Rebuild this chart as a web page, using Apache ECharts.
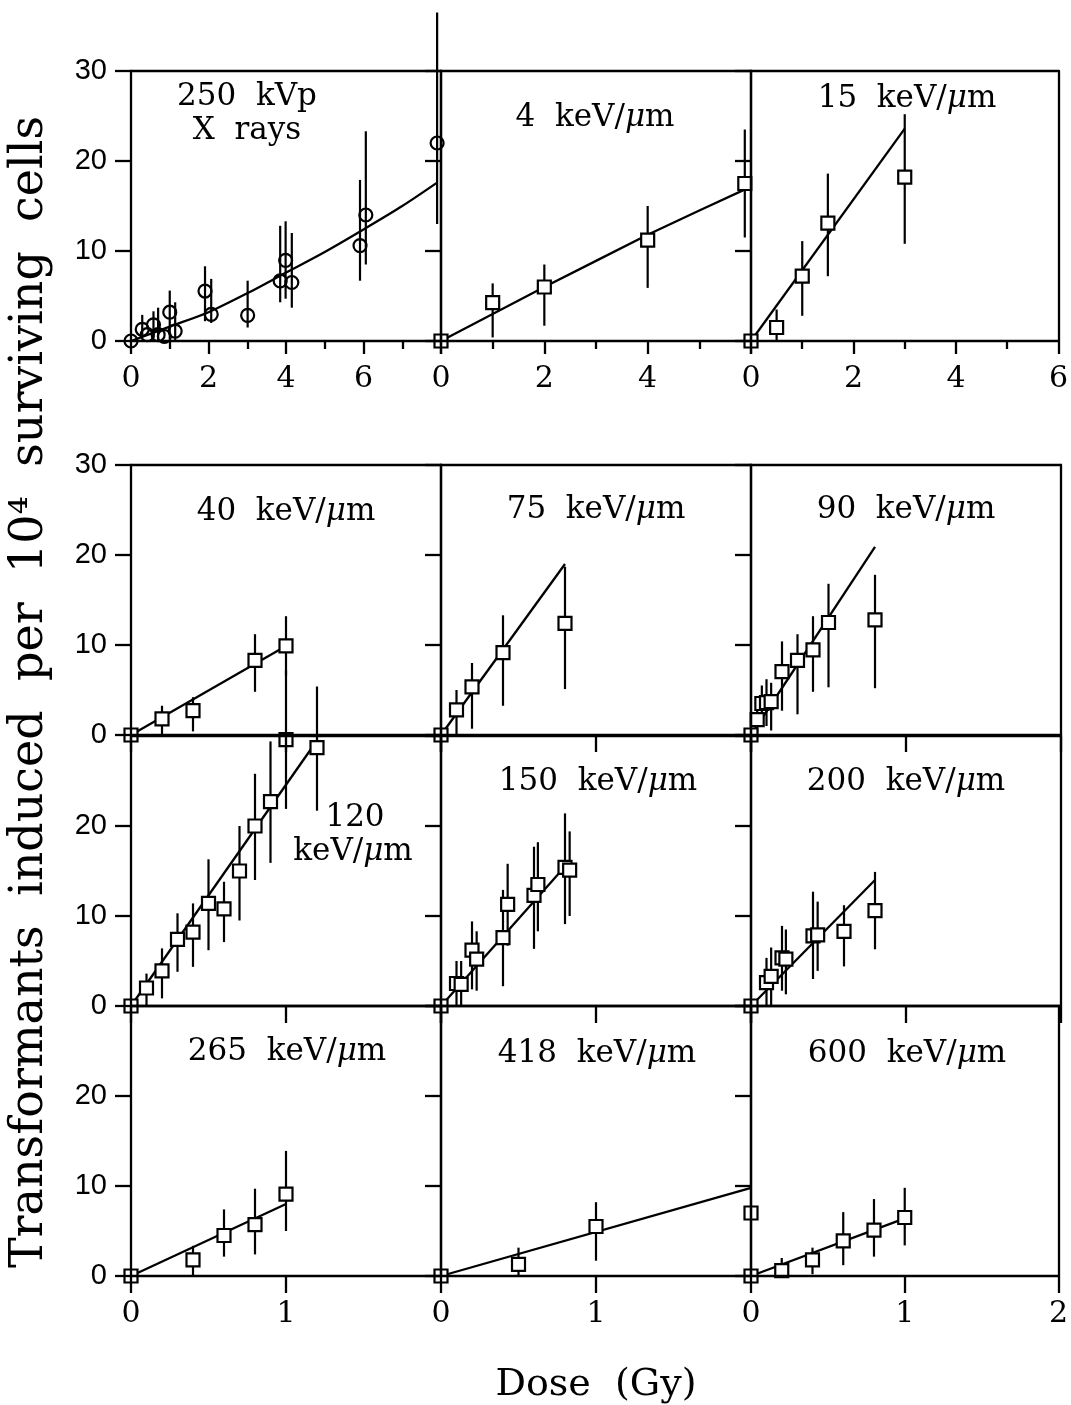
<!DOCTYPE html>
<html>
<head>
<meta charset="utf-8">
<script src="https://cdn.jsdelivr.net/npm/echarts@6/dist/echarts.min.js"></script>
<style>
  html, body { margin: 0; padding: 0; background: #fff; }
  #chart { width: 1071px; height: 1405px; }
</style>
</head>
<body>
<div id="chart"></div>
<script>
// points: [dose (Gy), transformants, error bar low, error bar high]
const xrayPoints = [
  [0, 0, 0, 0], [0.29, 1.3, 0.4, 2.9], [0.42, 0.7, 0.7, 0.7], [0.58, 1.8, 0.3, 3.3],
  [0.7, 0.7, 0.0, 3.7], [0.86, 0.5, 0.5, 0.5], [1.0, 3.2, 0.2, 5.6], [1.14, 1.1, 0.0, 4.3],
  [1.91, 5.55, 2.2, 8.3], [2.07, 2.96, 2.0, 6.9], [3.01, 2.85, 1.5, 6.7], [3.85, 6.67, 4.3, 12.8],
  [3.99, 8.96, 4.7, 13.3], [4.15, 6.5, 3.7, 12.0], [5.91, 10.6, 6.7, 17.9], [6.06, 14.0, 8.5, 23.3],
  [7.9, 22.0, 13.0, 36.5]
];
const xrayFit = [[0, 0], [1, 1.6], [2, 3.2], [3, 5.3], [4, 7.6], [5, 9.9], [6, 12.4], [7, 15.0], [7.9, 17.6]];

const let4Points = [[0, 0, 0, 0], [1.0, 4.26, 0.4, 6.4], [2.0, 6.0, 1.7, 8.5], [4.0, 11.2, 5.9, 15.0], [5.88, 17.5, 11.5, 23.5]];
const let4Fit = [[0, 0], [1, 3.0], [2, 6.0], [3, 8.9], [4, 11.8], [5, 14.5], [5.98, 17.1]];

const let15Points = [[0, 0, 0, 0], [0.5, 1.5, 0, 3.5], [1.0, 7.2, 2.8, 11.1], [1.5, 13.1, 7.2, 18.6], [3.0, 18.2, 10.8, 25.2]];
const let15Fit = [[0, 0], [3, 23.6]];

const let40Points = [[0, 0, 0, 0], [0.2, 1.8, 0, 3.25], [0.4, 2.7, 0.4, 4.2], [0.8, 8.3, 4.8, 11.2], [1.0, 9.9, 6.6, 13.2]];
const let40Fit = [[0, 0], [1.0, 9.9]];

const let75Points = [[0, 0, 0, 0], [0.1, 2.8, 0, 5.0], [0.2, 5.35, 0.7, 8.0], [0.4, 9.15, 3.25, 13.3], [0.8, 12.4, 5.1, 18.7]];
const let75Fit = [[0, 0], [0.8, 19.0]];

const let90Points = [
  [0, 0, 0, 0], [0.04, 1.7, 0.3, 3.2], [0.07, 3.5, 1.5, 5.5], [0.1, 3.6, 1.0, 6.2], [0.13, 3.7, 0.5, 5.8],
  [0.2, 7.05, 2.7, 10.4], [0.3, 8.3, 2.3, 11.2], [0.4, 9.45, 4.8, 13.2], [0.5, 12.5, 5.3, 16.8], [0.8, 12.8, 5.2, 17.8]
];
const let90Fit = [[0, 0], [0.8, 20.9]];

const let120Points = [
  [0, 0, 0, 0], [0.1, 2.0, 0, 3.6], [0.2, 3.9, 0.85, 6.4], [0.3, 7.4, 3.8, 10.3], [0.4, 8.2, 4.35, 11.4],
  [0.5, 11.4, 6.2, 16.3], [0.6, 10.8, 7.1, 13.8], [0.7, 15.0, 9.5, 20.0], [0.8, 20.0, 14.0, 25.8],
  [0.9, 22.7, 15.9, 29.4], [1.0, 29.6, 21.9, 37.3], [1.2, 28.7, 21.7, 35.5]
];
const let120Fit = [[0, 0], [1.2, 29.5]];

const let150Points = [
  [0, 0, 0, 0], [0.1, 2.5, 0, 5.0], [0.13, 2.4, 0, 5.0], [0.2, 6.2, 1.85, 9.4], [0.23, 5.2, 1.7, 8.3],
  [0.4, 7.6, 2.2, 12.9], [0.43, 11.3, 6.7, 15.8], [0.6, 12.3, 6.35, 17.7], [0.625, 13.5, 8.3, 18.2],
  [0.8, 15.4, 9.1, 21.4], [0.83, 15.1, 10.0, 19.4]
];
const let150Fit = [[0, 0], [0.8, 15.5]];

const let200Points = [
  [0, 0, 0, 0], [0.1, 2.6, 0, 5.35], [0.13, 3.3, 0, 6.5], [0.2, 5.35, 1.7, 8.9], [0.225, 5.2, 1.3, 8.5],
  [0.4, 7.8, 3.0, 12.7], [0.43, 7.9, 3.9, 11.6], [0.6, 8.3, 4.4, 11.2], [0.8, 10.6, 6.3, 14.9]
];
const let200Fit = [[0, 0], [0.8, 14.0]];

const let265Points = [[0, 0, 0, 0], [0.4, 1.8, 0, 3.35], [0.6, 4.5, 2.15, 7.4], [0.8, 5.7, 2.4, 9.7], [1.0, 9.1, 5.0, 13.9]];
const let265Fit = [[0, 0], [1.0, 8.0]];

const let418Points = [[0, 0, 0, 0], [0.5, 1.3, 0, 3.15], [1.0, 5.5, 1.7, 8.2], [2.0, 7.0, 7.0, 7.0]];
const let418Fit = [[0, 0], [2.0, 9.8]];

const let600Points = [[0, 0, 0, 0], [0.2, 0.6, 0, 2.0], [0.4, 1.8, 0.2, 3.15], [0.6, 3.9, 1.2, 7.1], [0.8, 5.1, 2.15, 8.55], [1.0, 6.5, 3.4, 9.8]];
const let600Fit = [[0, 0], [1.0, 6.4]];

const yTicks = [0, 10, 20, 30];

// panel layout: row 0 is the top block, rows 1-3 the lower block
const colLeft = [131, 441, 751];
const rowTop = [71, 465, 736, 1006];
const panelW = 310, panelH = 270;

const panels = [
  { pts: xrayPoints, fit: xrayFit, row: 0, col: 0, xMax: 8, step: 2, circle: true, labels: [['250  kVp', 116, 26], ['X  rays', 116, 60]] },
  { pts: let4Points, fit: let4Fit, row: 0, col: 1, xMax: 6, step: 2, labels: [['4  keV/{mu|μ}m', 154, 47]] },
  { pts: let15Points, fit: let15Fit, row: 0, col: 2, xMax: 6, step: 2, labels: [['15  keV/{mu|μ}m', 156, 28]] },
  { pts: let40Points, fit: let40Fit, row: 1, col: 0, xMax: 2, step: 1, labels: [['40  keV/{mu|μ}m', 155, 47]] },
  { pts: let75Points, fit: let75Fit, row: 1, col: 1, xMax: 2, step: 1, labels: [['75  keV/{mu|μ}m', 155, 45]] },
  { pts: let90Points, fit: let90Fit, row: 1, col: 2, xMax: 2, step: 1, labels: [['90  keV/{mu|μ}m', 155, 45]] },
  { pts: let120Points, fit: let120Fit, row: 2, col: 0, xMax: 2, step: 1, labels: [['120', 224, 82], ['keV/{mu|μ}m', 222, 116]] },
  { pts: let150Points, fit: let150Fit, row: 2, col: 1, xMax: 2, step: 1, labels: [['150  keV/{mu|μ}m', 157, 46]] },
  { pts: let200Points, fit: let200Fit, row: 2, col: 2, xMax: 2, step: 1, labels: [['200  keV/{mu|μ}m', 155, 46]] },
  { pts: let265Points, fit: let265Fit, row: 3, col: 0, xMax: 2, step: 1, labels: [['265  keV/{mu|μ}m', 156, 46]] },
  { pts: let418Points, fit: let418Fit, row: 3, col: 1, xMax: 2, step: 1, labels: [['418  keV/{mu|μ}m', 156, 48]] },
  { pts: let600Points, fit: let600Fit, row: 3, col: 2, xMax: 2, step: 1, labels: [['600  keV/{mu|μ}m', 156, 48]] }
];

const black = '#000';
const line2 = { color: black, width: 2.3 };
const serif = 'DejaVu Serif';

const grid = [], xAxis = [], yAxis = [], series = [], graphic = [];

panels.forEach((p, i) => {
  const left = colLeft[p.col], top = rowTop[p.row];
  const xLabels = p.row === 0 || p.row === 3;
  grid.push({ left: left, top: top, width: panelW, height: panelH, show: false });

  xAxis.push({
    gridIndex: i, type: 'value', min: 0, max: p.xMax, interval: p.step, position: 'bottom', z: 6,
    axisLine: { show: true, onZero: false, lineStyle: line2 },
    axisTick: { show: true, inside: false, length: p.row === 0 ? 13 : 17, lineStyle: line2 },
    minorTick: { show: p.row === 0, splitNumber: 2, length: 8, lineStyle: line2 },
    splitLine: { show: false }, minorSplitLine: { show: false },
    axisLabel: { show: xLabels, showMinLabel: true, showMaxLabel: p.col === 2, margin: 23,
      fontFamily: serif, fontSize: 30, color: black }
  });
  xAxis.push({
    gridIndex: i, type: 'value', min: 0, max: p.xMax, position: 'top', z: 6,
    axisLine: { show: true, onZero: false, lineStyle: line2 },
    axisTick: { show: false }, axisLabel: { show: false }, splitLine: { show: false }
  });
  yAxis.push({
    gridIndex: i, type: 'value', min: yTicks[0], max: yTicks[yTicks.length - 1], interval: 10, position: 'left', z: 6,
    axisLine: { show: true, onZero: false, lineStyle: line2 },
    axisTick: { show: true, inside: false, length: 16, lineStyle: line2 },
    splitLine: { show: false },
    axisLabel: { show: p.col === 0, showMinLabel: true, showMaxLabel: p.row <= 1, margin: 24,
      fontFamily: 'Liberation Sans', fontSize: 29, color: black }
  });
  yAxis.push({
    gridIndex: i, type: 'value', min: 0, max: 30, position: 'right', z: 6,
    axisLine: { show: true, onZero: false, lineStyle: line2 },
    axisTick: { show: false }, axisLabel: { show: false }, splitLine: { show: false }
  });

  const axes = { xAxisIndex: 2 * i, yAxisIndex: 2 * i };
  series.push(Object.assign({
    type: 'custom', clip: false, silent: true, z: 2,
    data: p.pts.map(d => [d[0], d[2], d[3]]),
    encode: { x: 0, y: [1, 2] },
    renderItem: (params, api) => {
      const a = api.coord([api.value(0), api.value(1)]);
      const b = api.coord([api.value(0), api.value(2)]);
      return { type: 'line', shape: { x1: a[0], y1: a[1], x2: b[0], y2: b[1] },
        style: { stroke: black, lineWidth: 2.2 } };
    }
  }, axes));
  series.push(Object.assign({
    type: 'line', data: p.fit, showSymbol: false, symbol: 'none', clip: false, silent: true, z: 3,
    smooth: p.circle ? 0.3 : false, lineStyle: line2
  }, axes));
  series.push(Object.assign({
    type: 'scatter', data: p.pts.map(d => [d[0], d[1]]), clip: false, silent: true, z: 4,
    symbol: p.circle ? 'circle' : 'rect', symbolSize: 13,
    itemStyle: { color: p.circle ? 'rgba(0,0,0,0)' : '#fff', borderColor: black, borderWidth: 2.2, opacity: 1 }
  }, axes));

  p.labels.forEach(l => {
    graphic.push({
      type: 'text', x: left + l[1], y: top + l[2], z: 10,
      style: { text: l[0], fill: black, fontSize: 31, fontFamily: serif, align: 'center', verticalAlign: 'middle',
        rich: { mu: { fontSize: 31, fontFamily: serif, fontStyle: 'italic', fill: black } } }
    });
  });
});

graphic.push({
  type: 'text', x: 30, y: 692, rotation: Math.PI / 2, z: 10,
  style: { text: 'Transformants  induced  per  10⁴  surviving  cells', fill: black, fontSize: 46,
    fontFamily: serif, align: 'center', verticalAlign: 'middle' }
});
graphic.push({
  type: 'text', x: 596, y: 1385, z: 10,
  style: { text: 'Dose  (Gy)', fill: black, fontSize: 38, fontFamily: serif, align: 'center', verticalAlign: 'middle' }
});

const chart = echarts.init(document.getElementById('chart'));
chart.setOption({
  backgroundColor: '#fff',
  animation: false,
  grid: grid,
  xAxis: xAxis,
  yAxis: yAxis,
  series: series,
  graphic: graphic
});
</script>
</body>
</html>
